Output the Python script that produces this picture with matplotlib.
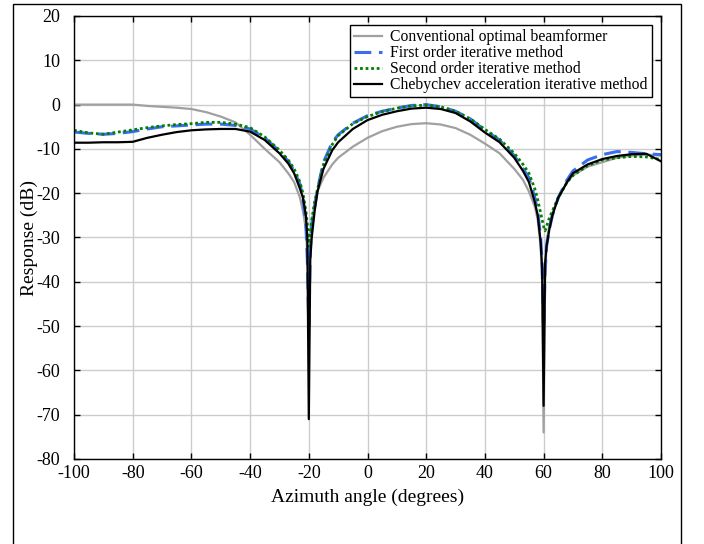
import matplotlib
matplotlib.use("Agg")
import matplotlib.pyplot as plt
from matplotlib.patches import Rectangle

plt.rcParams['font.family'] = ['Liberation Serif', 'DejaVu Serif']
plt.rcParams['axes.unicode_minus'] = False

angles = [-100, -95, -90, -85, -80, -75, -70, -65, -60, -55, -50, -45, -40, -35, -30,
          -27, -25, -23, -22, -21, -20.5, -20, -19.5, -19, -18, -17, -15, -12, -10, -5,
          0, 5, 10, 15, 20, 25, 30, 35, 40, 45, 50, 53, 55, 57, 58, 59, 59.5, 60, 60.5,
          61, 62, 63, 65, 68, 70, 75, 80, 85, 90, 95, 100]

conventional = [0, 0, 0, 0, 0, -0.3, -0.5, -0.7, -1.0, -1.7, -2.7, -4.0, -6.8, -10.0, -13.0,
                -15.5, -17.5, -21, -24, -28, -34, -42, -33, -27, -22, -19.5, -16.5, -13.5, -12.0, -9.5,
                -7.5, -6.0, -5, -4.4, -4.2, -4.5, -5.3, -6.8, -8.8, -11, -14.5, -17, -19.6, -23, -26, -32, -40, -74, -40,
                -31, -27, -24.5, -21, -17.5, -16, -14, -13, -12, -11.5, -11.3, -11.5]

first_order = [-6.2, -6.5, -6.7, -6.5, -6.1, -5.5, -5.0, -4.8, -4.6, -4.4, -4.4, -4.7, -5.5, -7.5, -10.5,
               -12.8, -15, -18, -21, -27, -35, -50, -33, -27, -23, -19, -13, -8.5, -6.8, -4.2,
               -2.5, -1.5, -0.8, -0.2, 0, -0.5, -1.5, -3.2, -5.8, -8, -11.5, -14.5, -16.5, -21, -24, -30, -36, -51, -38,
               -32, -28, -25, -21, -17, -15, -12.5, -11.3, -10.6, -10.8, -11.1, -11.3]

second_order = [-5.8, -6.4, -6.7, -6.2, -5.7, -5.2, -4.8, -4.5, -4.3, -4.0, -4.0, -4.4, -5.2, -7.3, -10.3,
                -12.5, -14.5, -17.5, -20, -24, -27, -32, -29, -26, -22, -19, -13.5, -9, -7, -4.3,
                -2.7, -1.6, -0.8, -0.3, -0.1, -0.5, -1.5, -3.2, -5.6, -7.8, -11, -13.5, -15.5, -19, -21.5, -24.5, -26, -27.5, -28.5,
                -27.5, -25.5, -24, -21, -17.5, -16, -13.8, -12.5, -12, -11.7, -11.8, -12.4]

chebychev = [-8.6, -8.6, -8.5, -8.5, -8.4, -7.5, -6.8, -6.2, -5.8, -5.6, -5.5, -5.5, -6.1, -8.0, -11,
             -13.3, -15.5, -19, -21, -25, -30, -71, -35, -30, -24, -19.5, -14.5, -10.3, -8.5, -5.5,
             -3.5, -2.3, -1.5, -0.9, -0.7, -1, -1.9, -3.8, -6.3, -8.5, -12, -15, -17.5, -22, -25, -31, -37, -68, -36,
             -32, -28, -25, -21, -17.5, -15.5, -13.5, -12.3, -11.6, -11.2, -11.1, -12.8]

labels = ["Conventional optimal beamformer", "First order iterative method",
          "Second order iterative method", "Chebychev acceleration iterative method"]

xticks = [-100, -80, -60, -40, -20, 0, 20, 40, 60, 80, 100]
yticks = [20, 10, 0, -10, -20, -30, -40, -50, -60, -70, -80]

fig = plt.figure(figsize=(7.04, 5.44), dpi=100)
ax = fig.add_axes([74/704, 85/544, (661-74)/704, (459-16)/544])

ax.plot(angles, conventional, color='#a0a0a0', lw=1.6, label=labels[0])
ax.plot(angles, first_order, color='#3a6df0', lw=2.2, ls=(0, (5.5, 2.5)), label=labels[1])
ax.plot(angles, second_order, color='#008000', lw=2.0, ls=(0, (1, 1)), label=labels[2])
ax.plot(angles, chebychev, color='black', lw=1.6, label=labels[3])

ax.set_xlim(-100, 100)
ax.set_ylim(-80, 20)
ax.set_xticks(xticks)
ax.set_yticks(yticks)
ax.grid(True, color='#cccccc', lw=1.0)
ax.set_axisbelow(True)
ax.tick_params(direction='in', top=True, right=True, length=4, labelsize=13, width=1)
ax.tick_params(axis='y', pad=10)
ax.tick_params(axis='x', pad=4)
for s in ax.spines.values():
    s.set_linewidth(1.0)
ax.set_xlabel("Azimuth angle (degrees)", fontsize=14, labelpad=5)
ax.set_ylabel("Response (dB)", fontsize=14, labelpad=-1)

leg = ax.legend(loc='upper right', fontsize=11.3, frameon=True, fancybox=False,
                edgecolor='black', framealpha=1, handlelength=1.8, borderpad=0.25,
                labelspacing=0.0, handletextpad=0.5, borderaxespad=0.6)
leg.get_frame().set_linewidth(1.0)

fig.patches.append(Rectangle((13/704, -0.05), (681-13)/704, 1.05 - 4/544, transform=fig.transFigure,
                             fill=False, edgecolor='black', lw=1.0))

fig.savefig("out.png", dpi=100)
